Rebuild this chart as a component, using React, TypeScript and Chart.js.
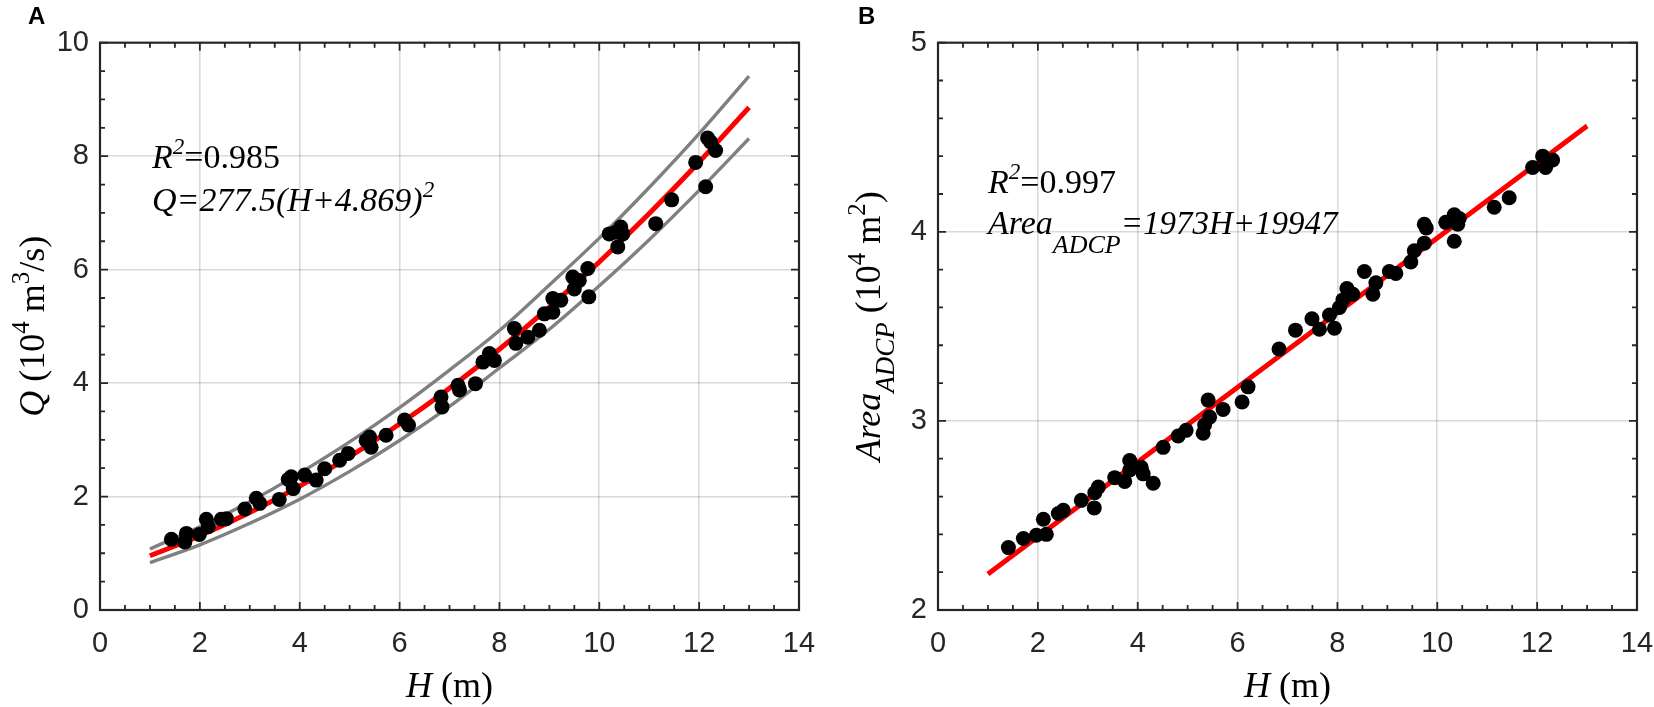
import React, { useEffect, useRef } from "react";
import { Chart, registerables } from "chart.js";
Chart.register(...registerables);

// ---------- Panel A data ----------
const qH = [1.43, 1.70, 1.73, 1.99, 2.13, 2.17, 2.43, 2.53, 2.90, 3.13, 3.20, 3.59, 3.77, 3.83, 3.87, 4.10, 4.33, 4.50, 4.80, 4.97, 5.33, 5.40, 5.43, 5.73, 6.10, 6.18, 6.85, 6.83, 7.17, 7.20, 7.52, 7.67, 7.80, 7.90, 8.30, 8.33, 8.57, 8.80, 8.90, 9.07, 9.07, 9.23, 9.47, 9.50, 9.60, 9.77, 9.79, 10.20, 10.33, 10.43, 10.37, 10.47, 11.13, 11.45, 11.93, 12.13, 12.17, 12.23, 12.33];
const qQ = [1.245, 1.20, 1.35, 1.33, 1.60, 1.47, 1.60, 1.61, 1.78, 1.97, 1.88, 1.95, 2.30, 2.35, 2.14, 2.38, 2.29, 2.49, 2.64, 2.76, 2.99, 3.05, 2.87, 3.08, 3.35, 3.26, 3.58, 3.755, 3.96, 3.88, 3.99, 4.37, 4.52, 4.40, 4.96, 4.70, 4.81, 4.93, 5.22, 5.25, 5.49, 5.46, 5.87, 5.66, 5.81, 6.02, 5.52, 6.63, 6.66, 6.75, 6.40, 6.63, 6.81, 7.23, 7.89, 7.46, 8.32, 8.25, 8.10];
const curveH = [1, 2, 3, 4, 5, 6, 7, 8, 9, 10, 11, 12, 13];
const fitQ = [0.956, 1.309, 1.718, 2.183, 2.703, 3.278, 3.909, 4.596, 5.338, 6.135, 6.988, 7.897, 8.861];
const upperQ = [1.076, 1.469, 1.908, 2.413, 2.963, 3.568, 4.229, 4.926, 5.728, 6.555, 7.448, 8.397, 9.411];
const lowerQ = [0.836, 1.149, 1.528, 1.953, 2.443, 2.988, 3.589, 4.266, 4.948, 5.715, 6.528, 7.397, 8.311];

// ---------- Panel B data ----------
const aH = [1.41, 1.71, 1.97, 2.17, 2.11, 2.41, 2.51, 2.87, 3.14, 3.21, 3.13, 3.54, 3.74, 3.84, 3.84, 4.07, 4.11, 4.31, 4.51, 4.81, 4.97, 5.31, 5.41, 5.44, 5.34, 5.71, 6.09, 6.21, 6.83, 7.16, 7.49, 7.64, 7.84, 7.94, 8.04, 8.11, 8.19, 8.31, 8.54, 8.71, 8.77, 9.04, 9.17, 9.47, 9.54, 9.74, 9.74, 9.78, 10.17, 10.34, 10.41, 10.34, 10.44, 11.14, 11.44, 11.91, 12.11, 12.17, 12.31];
const aA = [2.33, 2.378, 2.395, 2.40, 2.48, 2.51, 2.527, 2.58, 2.62, 2.65, 2.54, 2.70, 2.68, 2.79, 2.74, 2.755, 2.72, 2.67, 2.86, 2.92, 2.95, 2.935, 3.11, 3.02, 2.98, 3.06, 3.10, 3.18, 3.38, 3.48, 3.54, 3.485, 3.56, 3.49, 3.60, 3.64, 3.70, 3.67, 3.79, 3.67, 3.73, 3.79, 3.78, 3.84, 3.90, 3.94, 4.04, 4.02, 4.05, 4.09, 4.04, 3.95, 4.07, 4.13, 4.18, 4.34, 4.40, 4.34, 4.38];
const lineH = [1, 13];
const lineA = [2.19, 4.56];

// ---------- axis settings ----------
const xRange = [0, 14];
const xMajor = 2;
const xMinor = 0.5;
const yRangeA = [0, 10];
const yMajorA = 2;
const yMinorA = 0.5;
const yRangeB = [2, 5];
const yMajorB = 1;
const yMinorB = 0.2;

type Seg = { t: string; it?: boolean; sz?: number; dy?: number; bold?: boolean; sans?: boolean };
type TextItem = { x: number; y: number; segs: Seg[]; size: number; align?: "left" | "center"; rotate?: boolean };

const SERIF = '"Liberation Serif", "Times New Roman", serif';
const SANS = '"Liberation Sans", Arial, Helvetica, sans-serif';
const AXIS_COLOR = "#262626";

function drawRich(ctx: CanvasRenderingContext2D, item: TextItem) {
  const fonts = item.segs.map(
    (s) => `${s.it ? "italic " : ""}${s.bold ? "bold " : ""}${s.sz ?? item.size}px ${s.sans ? SANS : SERIF}`
  );
  const widths = item.segs.map((s, i) => {
    ctx.font = fonts[i];
    return ctx.measureText(s.t).width;
  });
  const total = widths.reduce((a, b) => a + b, 0);
  ctx.save();
  ctx.translate(item.x, item.y);
  if (item.rotate) ctx.rotate(-Math.PI / 2);
  ctx.fillStyle = "#000";
  ctx.textBaseline = "alphabetic";
  ctx.textAlign = "left";
  let cx = item.align === "center" ? -total / 2 : 0;
  item.segs.forEach((s, i) => {
    ctx.font = fonts[i];
    ctx.fillText(s.t, cx, s.dy ?? 0);
    cx += widths[i];
  });
  ctx.restore();
}

const isMajor = (v: number, step: number) => Math.abs(v / step - Math.round(v / step)) < 1e-6;

function makeFramePlugin(xStep: number, yStep: number, texts: TextItem[]) {
  return {
    id: "frameAndText",
    afterDraw(chart: any) {
      const { ctx, chartArea: a } = chart;
      const xs = chart.scales.x;
      const ys = chart.scales.y;
      ctx.save();
      ctx.strokeStyle = AXIS_COLOR;
      ctx.lineWidth = 1.8;
      ctx.beginPath();
      xs.ticks.forEach((t: any) => {
        const px = xs.getPixelForValue(t.value);
        const L = isMajor(t.value, xStep) ? 8 : 5;
        ctx.moveTo(px, a.bottom);
        ctx.lineTo(px, a.bottom - L);
        ctx.moveTo(px, a.top);
        ctx.lineTo(px, a.top + L);
      });
      ys.ticks.forEach((t: any) => {
        const py = ys.getPixelForValue(t.value);
        const L = isMajor(t.value, yStep) ? 8 : 5;
        ctx.moveTo(a.left, py);
        ctx.lineTo(a.left + L, py);
        ctx.moveTo(a.right, py);
        ctx.lineTo(a.right - L, py);
      });
      ctx.stroke();
      ctx.lineWidth = 2.2;
      ctx.strokeRect(a.left, a.top, a.right - a.left, a.bottom - a.top);
      ctx.restore();
      texts.forEach((t) => drawRich(ctx, t));
    },
  };
}

function buildConfig(opts: {
  datasets: any[];
  yRange: number[];
  yMajor: number;
  yMinor: number;
  yWidth: number;
  padRight: number;
  texts: TextItem[];
}) {
  const tickFont = { family: SANS, size: 29 };
  return {
    type: "scatter",
    data: { datasets: opts.datasets },
    options: {
      animation: false,
      responsive: false,
      devicePixelRatio: 1,
      events: [],
      layout: { padding: { top: 42.7, right: opts.padRight, left: 0, bottom: 0 } },
      plugins: { legend: { display: false }, tooltip: { enabled: false } },
      scales: {
        x: {
          type: "linear",
          min: xRange[0],
          max: xRange[1],
          border: { display: false },
          grid: {
            drawTicks: false,
            lineWidth: 1.6,
            color: (c: any) => (c.tick && isMajor(c.tick.value, xMajor) && c.tick.value > xRange[0] && c.tick.value < xRange[1] ? "rgba(0,0,0,0.15)" : "rgba(0,0,0,0)"),
          },
          ticks: {
            stepSize: xMinor,
            autoSkip: false,
            maxRotation: 0,
            padding: 17,
            color: AXIS_COLOR,
            font: tickFont,
            callback: (v: number) => (isMajor(v, xMajor) ? String(Math.round(v)) : ""),
          },
          afterFit: (s: any) => {
            s.height = 97;
            s.paddingLeft = 0;
            s.paddingRight = 0;
          },
        },
        y: {
          type: "linear",
          min: opts.yRange[0],
          max: opts.yRange[1],
          border: { display: false },
          grid: {
            drawTicks: false,
            lineWidth: 1.6,
            color: (c: any) => (c.tick && isMajor(c.tick.value, opts.yMajor) && c.tick.value > opts.yRange[0] && c.tick.value < opts.yRange[1] ? "rgba(0,0,0,0.15)" : "rgba(0,0,0,0)"),
          },
          ticks: {
            stepSize: opts.yMinor,
            autoSkip: false,
            padding: 11,
            color: AXIS_COLOR,
            font: tickFont,
            callback: (v: number) => (isMajor(v, opts.yMajor) ? String(Math.round(v)) : ""),
          },
          afterFit: (s: any) => {
            s.width = opts.yWidth;
            s.paddingTop = 0;
            s.paddingBottom = 0;
          },
        },
      },
    },
    plugins: [makeFramePlugin(xMajor, opts.yMajor, opts.texts)],
  };
}

const toPts = (xs: number[], ys: number[]) => xs.map((x, i) => ({ x, y: ys[i] }));

const scatterStyle = {
  pointRadius: 7.5,
  pointBackgroundColor: "#000",
  pointBorderWidth: 0,
  showLine: false,
  order: 0,
};

const lineStyle = (color: string, width: number, order: number) => ({
  showLine: true,
  pointRadius: 0,
  borderColor: color,
  borderWidth: width,
  tension: 0.4,
  cubicInterpolationMode: "monotone",
  fill: false,
  order,
});

const textsA: TextItem[] = [
  { x: 28, y: 24, size: 24, segs: [{ t: "A", bold: true, sans: true }] },
  { x: 152, y: 168, size: 34, segs: [{ t: "R", it: true }, { t: "2", it: true, sz: 23, dy: -14 }, { t: "=0.985" }] },
  { x: 152, y: 211, size: 34, segs: [{ t: "Q=277.5(H+4.869)", it: true }, { t: "2", it: true, sz: 23, dy: -14 }] },
  { x: 449.5, y: 697, size: 36, align: "center", segs: [{ t: "H", it: true }, { t: " (m)" }] },
  {
    x: 44, y: 326.3, size: 36, align: "center", rotate: true,
    segs: [{ t: "Q", it: true }, { t: " (10" }, { t: "4", sz: 25, dy: -15 }, { t: " m" }, { t: "3", sz: 25, dy: -15 }, { t: "/s)" }],
  },
];

const textsB: TextItem[] = [
  { x: 31, y: 24, size: 24, segs: [{ t: "B", bold: true, sans: true }] },
  { x: 161, y: 193, size: 34, segs: [{ t: "R", it: true }, { t: "2", it: true, sz: 23, dy: -14 }, { t: "=0.997" }] },
  { x: 161, y: 234, size: 34, segs: [{ t: "Area", it: true }, { t: "ADCP", it: true, sz: 26, dy: 19 }, { t: "=1973H+19947", it: true, sz: 33 }] },
  { x: 460.5, y: 697, size: 36, align: "center", segs: [{ t: "H", it: true }, { t: " (m)" }] },
  {
    x: 53, y: 326.3, size: 36, align: "center", rotate: true,
    segs: [{ t: "Area", it: true }, { t: "ADCP", it: true, sz: 27, dy: 14 }, { t: " (10" }, { t: "4", sz: 25, dy: -15 }, { t: " m" }, { t: "2", sz: 25, dy: -15 }, { t: ")" }],
  },
];

export default function App() {
  const refA = useRef<HTMLCanvasElement>(null);
  const refB = useRef<HTMLCanvasElement>(null);

  useEffect(() => {
    const cfgA = buildConfig({
      datasets: [
        { data: toPts(qH, qQ), ...scatterStyle },
        { data: toPts(curveH, fitQ), ...lineStyle("#ff0000", 5, 1) },
        { data: toPts(curveH, upperQ), ...lineStyle("#808080", 3.4, 2) },
        { data: toPts(curveH, lowerQ), ...lineStyle("#808080", 3.4, 2) },
      ],
      yRange: yRangeA,
      yMajor: yMajorA,
      yMinor: yMinorA,
      yWidth: 100,
      padRight: 28,
      texts: textsA,
    });
    const cfgB = buildConfig({
      datasets: [
        { data: toPts(aH, aA), ...scatterStyle },
        { data: toPts(lineH, lineA), ...lineStyle("#ff0000", 5, 1) },
      ],
      yRange: yRangeB,
      yMajor: yMajorB,
      yMinor: yMinorB,
      yWidth: 111,
      padRight: 17,
      texts: textsB,
    });
    const cA = new Chart(refA.current as HTMLCanvasElement, cfgA as any);
    const cB = new Chart(refB.current as HTMLCanvasElement, cfgB as any);
    return () => {
      cA.destroy();
      cB.destroy();
    };
  }, []);

  return (
    <div style={{ position: "absolute", left: 0, top: 0, width: 1654, height: 707, background: "#fff" }}>
      <canvas ref={refA} width={827} height={707} style={{ position: "absolute", left: 0, top: 0, width: 827, height: 707 }} />
      <canvas ref={refB} width={827} height={707} style={{ position: "absolute", left: 827, top: 0, width: 827, height: 707 }} />
    </div>
  );
}
